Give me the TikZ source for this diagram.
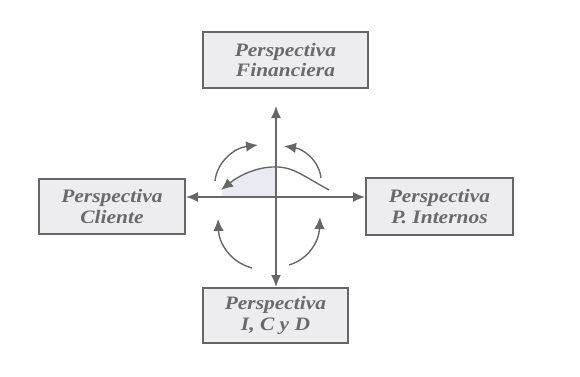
\documentclass[tikz,border=0pt]{standalone}
\usepackage{fontspec}
\setmainfont{Liberation Serif}[FakeStretch=1.13]
\usetikzlibrary{arrows.meta}
\definecolor{boxfill}{HTML}{EDEDF0}
\definecolor{boxline}{HTML}{666666}
\definecolor{txt}{HTML}{6A6A6A}
\definecolor{arr}{HTML}{676767}
\definecolor{lavfill}{HTML}{EAEAF2}
\tikzset{
  persp/.style={draw=boxline, line width=1.8pt, fill=boxfill, text=txt,
    font=\bfseries\itshape\fontsize{19}{20.5}\selectfont, align=center,
    inner sep=0pt, minimum width=#1},
  axisline/.style={draw=arr, line width=1.6pt, {Latex[length=12pt,width=10pt]}-{Latex[length=12pt,width=10pt]}},
  curvearrow/.style={draw=arr, line width=1.4pt, -{Latex[length=12pt,width=10.5pt]}}
}
\begin{document}
\begin{tikzpicture}[x=1pt,y=-1pt]
\useasboundingbox (0,0) rectangle (580,376);
\node[persp=165pt, minimum height=56pt] (fin) at (285.5,60) {Perspectiva\\Financiera};
\node[persp=146pt, minimum height=55pt] (cli) at (112,206.5) {Perspectiva\\Cliente};
\node[persp=147pt, minimum height=57pt] (pin) at (439.5,206.5) {Perspectiva\\P. Internos};
\node[persp=145pt, minimum height=55pt] (icd) at (275.5,315.5) {Perspectiva\\I, C y D};
\coordinate (vtop) at (276,106);
\coordinate (vbot) at (276,287);
\coordinate (hl) at (186,197);
\coordinate (hr) at (365,197);
% shaded region
\fill[lavfill] (276,197) -- (276,167.5) .. controls (252,168) and (236,178) .. (223,188) -- (221,197) -- cycle;
\draw[axisline] (vtop) -- (vbot);
\draw[axisline] (hl) -- (hr);
% curved arrows
\coordinate (a1s) at (215,181);
\coordinate (a1e) at (258,145);
\draw[curvearrow] (a1s) .. controls (217,162) and (234,148) .. (a1e);
\coordinate (a2s) at (321,178);
\coordinate (a2e) at (284,146);
\draw[curvearrow] (a2s) .. controls (319,160) and (303,149) .. (a2e);
\coordinate (a3s) at (329,190);
\coordinate (a3e) at (221,190);
\draw[curvearrow] (a3s) .. controls (300,174) and (292,166) .. (272,167) .. controls (252,168) and (236,178) .. (a3e);
\coordinate (a4s) at (252,268);
\coordinate (a4e) at (218,219);
\draw[curvearrow] (a4s) .. controls (230,262) and (219,243) .. (a4e);
\coordinate (a5s) at (289,265);
\coordinate (a5e) at (320,217);
\draw[curvearrow] (a5s) .. controls (309,259) and (319,241) .. (a5e);
\end{tikzpicture}
\end{document}
